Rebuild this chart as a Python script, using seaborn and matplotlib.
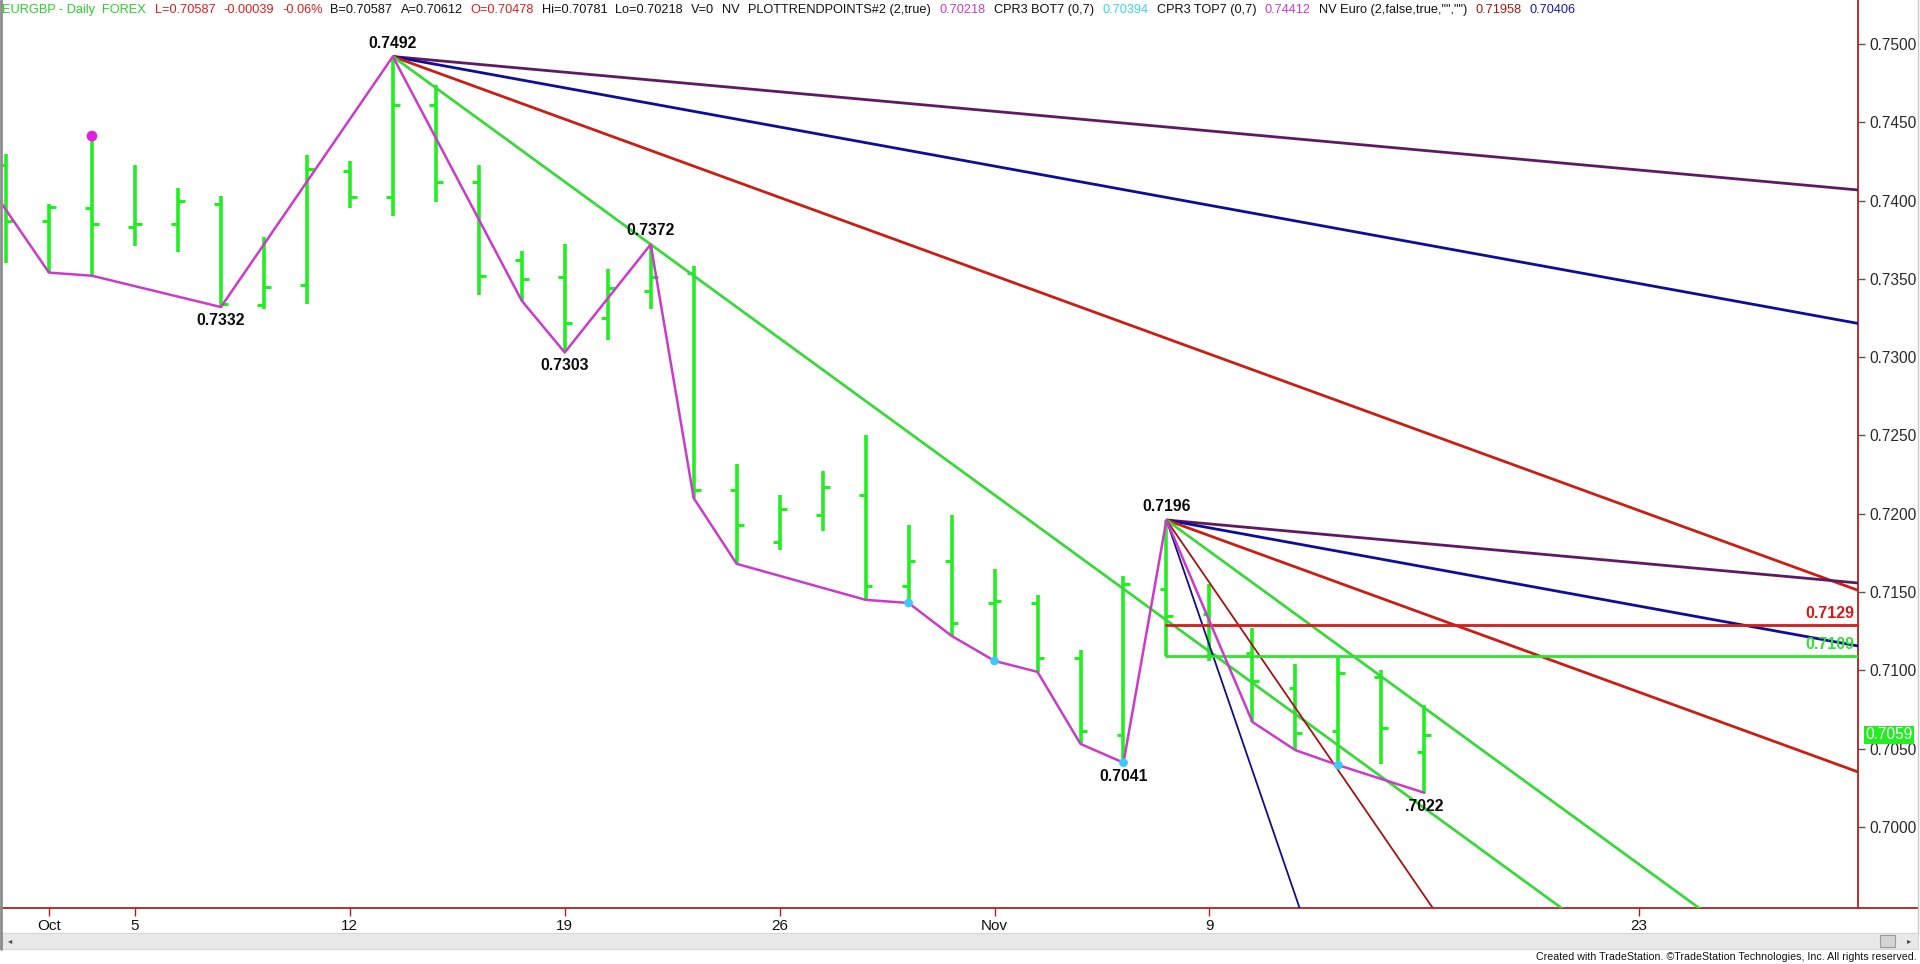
import numpy as np
import pandas as pd
import matplotlib
matplotlib.use("Agg")
import matplotlib.pyplot as plt
import matplotlib.transforms as mtransforms
from matplotlib.lines import Line2D
from matplotlib.patches import Rectangle
from matplotlib import font_manager
import seaborn as sns

# ---------------- data ----------------
dates = ["Sep 30", "Oct 1", "Oct 2", "Oct 5", "Oct 6", "Oct 7", "Oct 8", "Oct 9",
         "Oct 12", "Oct 13", "Oct 14", "Oct 15", "Oct 16", "Oct 19", "Oct 20", "Oct 21",
         "Oct 22", "Oct 23", "Oct 26", "Oct 27", "Oct 28", "Oct 29", "Oct 30",
         "Nov 2", "Nov 3", "Nov 4", "Nov 5", "Nov 6", "Nov 9", "Nov 10", "Nov 11",
         "Nov 12", "Nov 13", "Nov 16"]
opens = [0.7423, 0.7387, 0.7395, 0.7383, 0.7385, 0.7398, 0.7333, 0.7346,
         0.7419, 0.7402, 0.7461, 0.7412, 0.7362, 0.7351, 0.7325, 0.7342,
         0.7354, 0.7215, 0.7182, 0.7199, 0.7212, 0.7154, 0.7170,
         0.7143, 0.7143, 0.7108, 0.7059, 0.7152, 0.7136, 0.7111, 0.7089,
         0.7061, 0.7096, 0.70478]
highs = [0.7430, 0.7398, 0.7441, 0.7423, 0.7408, 0.7403, 0.7377, 0.7429,
         0.7425, 0.7492, 0.7474, 0.7423, 0.7368, 0.7372, 0.7356, 0.7372,
         0.7358, 0.7232, 0.7212, 0.7227, 0.7250, 0.7193, 0.7199,
         0.7165, 0.7148, 0.7113, 0.7160, 0.7196, 0.7155, 0.7127, 0.7104,
         0.7109, 0.7100, 0.70781]
lows = [0.7360, 0.7354, 0.7352, 0.7371, 0.7367, 0.7332, 0.7331, 0.7334,
        0.7395, 0.7390, 0.7399, 0.7340, 0.7336, 0.7303, 0.7311, 0.7331,
        0.7210, 0.7168, 0.7177, 0.7189, 0.7145, 0.7143, 0.7122,
        0.7106, 0.7099, 0.7053, 0.7041, 0.7109, 0.7106, 0.7067, 0.7049,
        0.70394, 0.7040, 0.70218]
closes = [0.7387, 0.7396, 0.7385, 0.7385, 0.7400, 0.7334, 0.7345, 0.7420,
          0.7402, 0.7461, 0.7412, 0.7352, 0.7350, 0.7322, 0.7344, 0.7351,
          0.7215, 0.7193, 0.7203, 0.7217, 0.7154, 0.7170, 0.7130,
          0.7144, 0.7108, 0.7061, 0.7155, 0.7135, 0.7110, 0.7093, 0.7060,
          0.7098, 0.7063, 0.70587]

tick_labels = ["Oct", "5", "12", "19", "26", "Nov", "9", "23"]
tick_bar_index = [1, 3, 8, 13, 18, 23, 28, 38]

pivot_idx = [-1, 1, 2, 5, 9, 12, 13, 15, 16, 17, 20, 21, 22, 23, 24, 25, 26, 27,
             29, 30, 31, 33]
pivot_price = [0.7434, 0.7354, 0.7352, 0.7332, 0.7492, 0.7336, 0.7303, 0.7372,
               0.7210, 0.7168, 0.7145, 0.7143, 0.7122, 0.7106, 0.7099, 0.7053,
               0.7041, 0.7196, 0.7067, 0.7049, 0.70394, 0.70218]

swing_labels = ["0.7492", "0.7332", "0.7303", "0.7372", "0.7041", "0.7196", ".7022"]
swing_idx = [9, 5, 13, 15, 26, 27, 33]
swing_price = [0.7492, 0.7332, 0.7303, 0.7372, 0.7041, 0.7196, 0.70218]
swing_above = [True, False, False, True, False, True, False]

top_dot_idx = [2]
top_dot_price = [0.74412]
bot_dot_idx = [21, 23, 26, 31]
bot_dot_price = [0.7143, 0.7106, 0.7041, 0.70394]

fan_anchor_idx = [9, 27]
fan_anchor_price = [0.7492, 0.7196]
fan_slopes = [[0.00025, 0.0005, 0.001, 0.002],
              [0.00025, 0.0005, 0.001, 0.002, 0.004, 0.008]]
fan_colors = ["#5E1A62", "#0E0E96", "#C81E14", "#3AD83A", "#A01414", "#101080"]
fan_widths = [2.0, 2.0, 2.0, 2.0, 1.3, 1.3]

level_values = [0.7129, 0.7109]
level_labels = ["0.7129", "0.7109"]
level_colors = ["#D41C1C", "#33E033"]
level_start_idx = 27

last_price = 0.70587
last_price_label = "0.7059"

header_parts = [
    ("EURGBP - Daily  FOREX", "#2ECC2E"),
    ("L=0.70587", "#D42020"), ("-0.00039", "#D42020"), ("-0.06%", "#D42020"),
    ("B=0.70587", "#111111"), ("A=0.70612", "#111111"),
    ("O=0.70478", "#D42020"),
    ("Hi=0.70781", "#111111"), ("Lo=0.70218", "#111111"),
    ("V=0", "#111111"), ("NV", "#111111"),
    ("PLOTTRENDPOINTS#2 (2,true)", "#111111"),
    ("0.70218", "#C83CC8"), ("CPR3 BOT7 (0,7)", "#111111"),
    ("0.70394", "#40D0F0"), ("CPR3 TOP7 (0,7)", "#111111"),
    ("0.74412", "#C83CC8"), ("NV Euro (2,false,true,\"\",\"\")", "#111111"),
    ("0.71958", "#A01818"), ("0.70406", "#1818A0"),
]
header_start_px = 2.5
header_end_px = 1576
footer_text = "Created with TradeStation. \u00a9TradeStation Technologies, Inc. All rights reserved."
footer_left_px = 1542

# ---------------- style ----------------
sns.set_theme(style="white")
plt.rcParams["font.family"] = ["Liberation Sans", "DejaVu Sans"]

W, H = 1920, 964
fig = plt.figure(figsize=(W / 100, H / 100), dpi=100, facecolor="white")
plot_right = 1858
plot_bottom = 908
ax = fig.add_axes([0, 1 - plot_bottom / H, plot_right / W, plot_bottom / H])
ax.set_facecolor("white")

bar_color = "#22EE22"
x = np.arange(len(dates))
ax.vlines(x, lows, highs, color=bar_color, lw=2.6, zorder=2)
ax.hlines(opens, x - 0.16, x, color=bar_color, lw=2.2, zorder=2)
ax.hlines(closes, x, x + 0.16, color=bar_color, lw=2.2, zorder=2)

xmin, xmax = -0.14, 43.09
# fan lines
for a_i, a_p, slopes in zip(fan_anchor_idx, fan_anchor_price, fan_slopes):
    for k, s in enumerate(slopes):
        xe = xmax + 1
        ax.plot([a_i, xe], [a_p, a_p - s * (xe - a_i)], color=fan_colors[k],
                lw=fan_widths[k], zorder=3, solid_capstyle="butt")

# levels
for v, lab, c in zip(level_values, level_labels, level_colors):
    ax.plot([level_start_idx, xmax + 1], [v, v], color=c, lw=2.0, zorder=3)
    ax.annotate(lab, xy=(xmax, v), xytext=(-4, 4), textcoords="offset pixels",
                ha="right", va="bottom", color=c, fontsize=11.5, fontweight="bold",
                zorder=6)

# zigzag
zz = pd.DataFrame({"idx": pivot_idx, "price": pivot_price})
sns.lineplot(data=zz, x="idx", y="price", sort=False, color="#C83CC8", lw=1.8,
             ax=ax, zorder=4, estimator=None)

# dots
sns.scatterplot(x=top_dot_idx, y=top_dot_price, color="#E020E0", s=60,
                edgecolor="none", ax=ax, zorder=5)
sns.scatterplot(x=bot_dot_idx, y=bot_dot_price, color="#40C8F8", s=40,
                edgecolor="none", ax=ax, zorder=5)

# swing labels
for lab, i, p, above in zip(swing_labels, swing_idx, swing_price, swing_above):
    ax.annotate(lab, xy=(i, p), xytext=(0, 6 if above else -6),
                textcoords="offset pixels", ha="center",
                va="bottom" if above else "top", fontsize=11.3,
                fontweight="bold", color="#0A0A0A", zorder=6)

ax.set_xlim(xmin, xmax)
ax.set_ylim(0.69482, 0.75281)
ax.set_xlabel("")
ax.set_ylabel("")

# axes styling
for side in ["top", "left"]:
    ax.spines[side].set_visible(False)
for side in ["right", "bottom"]:
    ax.spines[side].set_color("#B02020")
    ax.spines[side].set_linewidth(1.3)

ax.yaxis.tick_right()
yt = np.round(np.arange(0.70, 0.75001, 0.005), 4)
ax.set_yticks(yt)
ax.set_yticklabels([f"{v:.4f}" for v in yt])
ax.tick_params(axis="y", right=True, left=False, length=5, width=1, color="#555555",
               labelcolor="#2A2A2A", labelsize=11.2, pad=3)
ax.set_xticks(tick_bar_index)
ax.set_xticklabels(tick_labels)
ax.tick_params(axis="x", bottom=True, length=6, width=1, color="#B02020",
               labelcolor="#111111", labelsize=11, pad=2)
ax.grid(False)

# last price box
bt = mtransforms.blended_transform_factory(fig.transFigure, ax.transData)
ax.text(1889 / W, last_price, last_price_label, transform=bt, ha="center", va="center",
        color="white", fontsize=11.2, clip_on=False, zorder=7,
        bbox=dict(boxstyle="square,pad=0.12", fc="#22EE22", ec="none"))

# header: one uniform size, laid out left to right to span the reference width
base_fs = 10.0
header_texts = [fig.text(0, 1 - 10 / H, txt, color=col, fontsize=base_fs, ha="left",
                         va="center") for txt, col in header_parts]

# frame / scrollbar / footer
fig.add_artist(Line2D([1 / W, 1 / W], [1 - 949 / H, 1], transform=fig.transFigure,
                      color="#8C8C8C", lw=2))
fig.add_artist(Line2D([plot_right / W, 1918 / W], [1 - plot_bottom / H] * 2,
                      transform=fig.transFigure, color="#B02020", lw=1.3))
fig.add_artist(Line2D([1918 / W, 1918 / W], [1 - 933 / H, 1], transform=fig.transFigure,
                      color="#C8C8C8", lw=1))
fig.add_artist(Rectangle((2 / W, 1 - 949 / H), 1916 / W, 16 / H, transform=fig.transFigure,
                         fc="#E8E8E8", ec="#D6D6D6", lw=0.8))
fig.add_artist(Rectangle((1880 / W, 1 - 947 / H), 15 / W, 12 / H, transform=fig.transFigure,
                         fc="#D4D4D4", ec="#9A9A9A", lw=0.8))
fig.text(10 / W, 1 - 941 / H, "\u25c2", fontsize=6, color="#444444", ha="center",
         va="center", family="DejaVu Sans")
fig.text(1909 / W, 1 - 941 / H, "\u25b8", fontsize=6, color="#444444", ha="center",
         va="center", family="DejaVu Sans")
footer = fig.text(1917 / W, 1 - 957 / H, footer_text, fontsize=9.5,
                  color="#111111", ha="right", va="center")

fig.canvas.draw()
renderer = fig.canvas.get_renderer()
widths = [t.get_window_extent(renderer).width for t in header_texts]
gap0 = 0.62 * base_fs * 100 / 72  # gap in px at base size
total0 = sum(widths) + gap0 * (len(widths) - 1)
scale = (header_end_px - header_start_px) / total0
pos = header_start_px
for t, w in zip(header_texts, widths):
    t.set_fontsize(base_fs * scale)
    t.set_x(pos / W)
    pos += (w + gap0) * scale

fw = footer.get_window_extent(renderer).width
target = 1917 - footer_left_px
footer.set_fontsize(footer.get_fontsize() * target / fw)

fig.savefig("out.png", dpi=100, facecolor="white")
